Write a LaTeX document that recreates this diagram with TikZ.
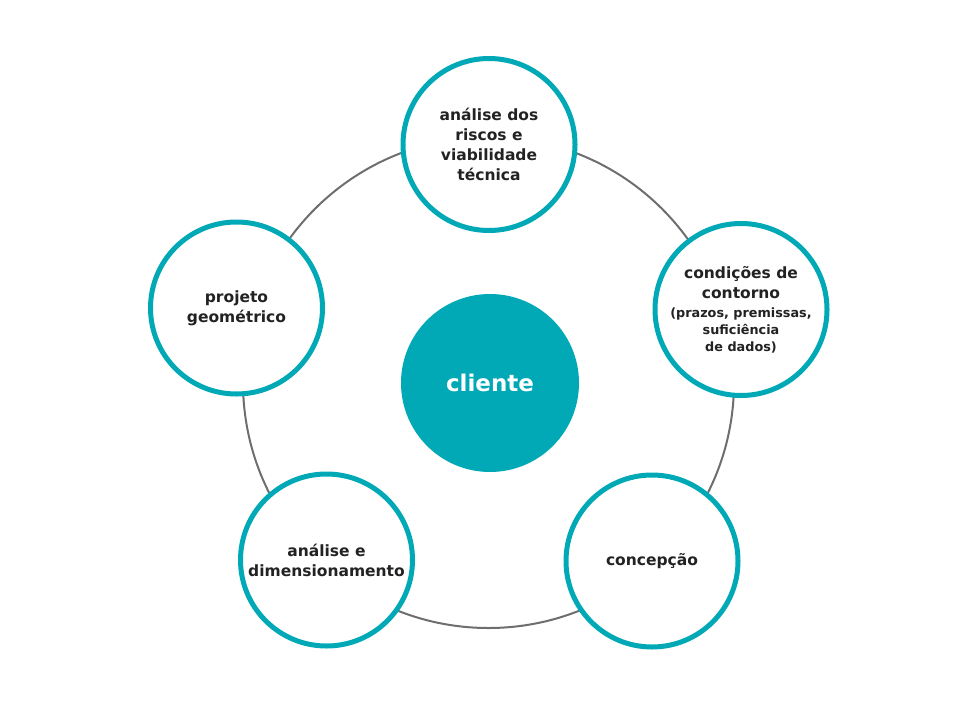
\documentclass[tikz,border=0pt]{standalone}
\usepackage{fontspec}
\setmainfont{DejaVu Sans}
\usepackage{tikz}
\definecolor{teal1}{RGB}{0,169,181}
\definecolor{ringgray}{RGB}{110,110,110}
\definecolor{txtgray}{RGB}{34,34,34}
\newcommand{\maintxt}{\fontsize{15.5}{20}\selectfont\bfseries}
\newcommand{\smalltxt}{\fontsize{12.8}{17}\selectfont\bfseries}
\tikzset{
    stage/.style={circle, draw=teal1, line width=5pt, fill=white, minimum size=172pt,
        inner sep=0pt, align=center, text=txtgray, font=\maintxt},
    core/.style={circle, fill=teal1, minimum size=178pt, inner sep=0pt,
        text=white, font=\fontsize{23}{28}\selectfont\bfseries}
}

\begin{document}
\begin{tikzpicture}[x=1pt, y=-1pt]
    \useasboundingbox (0,0) rectangle (971,715);

    \coordinate (M) at (488.5,382.5);

    % ring behind the stages
    \draw[ringgray, line width=2pt] (M) circle[radius=245.5pt];

    \node[core] (cliente) at (490,383) {cliente};

    \node[stage] (riscos) at (489,144.5) {análise dos\\riscos e\\viabilidade\\técnica};
    \node[stage] (contorno) at (741,309.5) {condições de\\contorno\\[-1pt]
        {\smalltxt (prazos, premissas,}\\[-3pt]
        {\smalltxt suficiência}\\[-3pt]
        {\smalltxt de dados)}};
    \node[stage] (concepcao) at (652,561) {concepção};
    \node[stage] (analise) at (326.5,560) {análise e\\dimensionamento};
    \node[stage] (projeto) at (236.5,308) {projeto\\geométrico};
\end{tikzpicture}
\end{document}
